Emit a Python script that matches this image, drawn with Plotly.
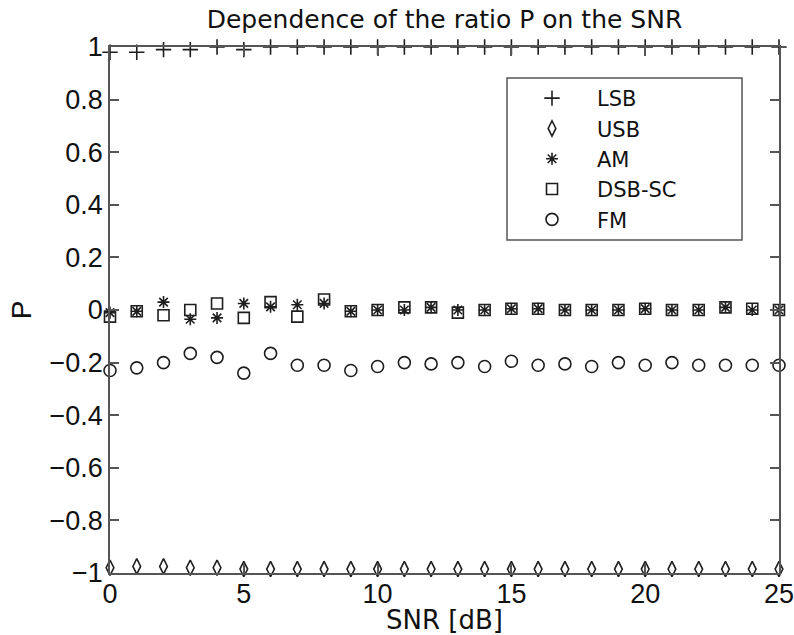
import plotly.graph_objects as go

# SNR sweep in dB
snr_db = list(range(26))

# Ratio P for each modulation scheme
p_lsb = [0.98, 0.98, 0.99, 0.99, 1.0, 0.99, 1.0, 1.0, 1.0, 1.0, 1.0, 1.0, 1.0,
         1.0, 1.0, 1.0, 1.0, 1.0, 1.0, 1.0, 1.0, 1.0, 1.0, 1.0, 1.0, 1.0]
p_usb = [-0.98, -0.975, -0.975, -0.98, -0.98, -0.985, -0.985, -0.985, -0.985,
         -0.985, -0.985, -0.985, -0.985, -0.985, -0.985, -0.985, -0.985, -0.985,
         -0.985, -0.985, -0.985, -0.985, -0.985, -0.985, -0.985, -0.985]
p_am = [-0.01, -0.005, 0.03, -0.035, -0.03, 0.025, 0.012, 0.02, 0.025, -0.005,
        0.0, 0.0, 0.01, 0.0, 0.0, 0.005, 0.005, 0.0, 0.0, 0.0, 0.005, 0.0,
        0.0, 0.01, 0.0, 0.0]
p_dsbsc = [-0.025, -0.005, -0.02, 0.0, 0.025, -0.03, 0.03, -0.025, 0.04, -0.005,
           0.0, 0.01, 0.01, -0.01, 0.0, 0.005, 0.005, 0.0, 0.0, 0.0, 0.005, 0.0,
           0.0, 0.01, 0.005, 0.0]
p_fm = [-0.23, -0.22, -0.2, -0.165, -0.18, -0.24, -0.165, -0.21, -0.21, -0.23,
        -0.215, -0.2, -0.205, -0.2, -0.215, -0.195, -0.21, -0.205, -0.215, -0.2,
        -0.21, -0.2, -0.21, -0.21, -0.21, -0.21]

x_ticks = [0, 5, 10, 15, 20, 25]
x_tick_labels = ["0", "5", "10", "15", "20", "25"]
y_ticks = [-1, -0.8, -0.6, -0.4, -0.2, 0, 0.2, 0.4, 0.6, 0.8, 1]
y_tick_labels = ["\u22121", "\u22120.8", "\u22120.6", "\u22120.4", "\u22120.2", "0",
                 "0.2", "0.4", "0.6", "0.8", "1"]

INK = "#1e1e1e"
AXIS = "#555555"

# plot area in pixels
W, H = 794, 635
ML, MR, MT, MB = 110, 15, 47, 62
PW, PH = W - ML - MR, H - MT - MB


def px_x(p):
    return (p - ML) / PW


def px_y(p):
    return (H - MB - p) / PH


series = [
    ("LSB", p_lsb, "cross-thin-open", 11),
    ("USB", p_usb, "diamond-tall-open", 11),
    ("AM", p_am, "asterisk-open", 10),
    ("DSB-SC", p_dsbsc, "square-open", 11),
    ("FM", p_fm, "circle-open", 12),
]

fig = go.Figure()
for name, vals, sym, size in series:
    fig.add_trace(go.Scatter(
        x=snr_db, y=vals, name=name, mode="markers", cliponaxis=False,
        marker=dict(symbol=sym, size=size, color=INK,
                    line=dict(color=INK, width=1.6)),
    ))

tick_font = dict(family="Liberation Sans, Arial, sans-serif", size=27, color="#111")

# legend frame
fig.add_shape(type="rect", xref="paper", yref="paper",
              x0=px_x(507), x1=px_x(742), y0=px_y(240), y1=px_y(78),
              line=dict(color=AXIS, width=1.5), fillcolor="white", layer="above")

fig.update_layout(
    width=W, height=H,
    margin=dict(l=ML, r=MR, t=MT, b=MB),
    paper_bgcolor="white", plot_bgcolor="white",
    title=dict(text="Dependence of the ratio P on the SNR",
               font=dict(family="DejaVu Sans, sans-serif", size=25, color="#111"),
               x=0.5, xref="paper", y=1 - 19 / H, yref="container",
               xanchor="center", yanchor="middle"),
    legend=dict(x=px_x(507), y=px_y(78), xanchor="left", yanchor="top",
                bgcolor="rgba(0,0,0,0)", borderwidth=0,
                font=dict(family="DejaVu Sans, sans-serif", size=21, color="#111"),
                itemwidth=80, tracegroupgap=0),
    showlegend=True,
)

fig.update_xaxes(
    range=[0, 25], tickvals=x_ticks, ticktext=x_tick_labels, automargin=False,
    showgrid=False, zeroline=False, showline=True, linecolor=AXIS, linewidth=1.5,
    mirror="ticks", ticks="inside", ticklen=9, tickcolor=AXIS, tickwidth=1.5,
    tickfont=tick_font, ticklabeloverflow="allow", ticklabelstandoff=-4,
    title=dict(text="SNR [dB]", font=dict(family="DejaVu Sans, sans-serif", size=26, color="#111"),
               standoff=0),
)
fig.update_yaxes(
    range=[-1, 1], tickvals=y_ticks, ticktext=y_tick_labels, automargin=False,
    showgrid=False, zeroline=False, showline=True, linecolor=AXIS, linewidth=1.5,
    mirror="ticks", ticks="inside", ticklen=9, tickcolor=AXIS, tickwidth=1.5,
    tickfont=tick_font, ticklabeloverflow="allow",
    title=dict(text="P", font=dict(family="Liberation Sans, Arial, sans-serif", size=28, color="#111"),
               standoff=10),
)

fig.write_html("out.html")
